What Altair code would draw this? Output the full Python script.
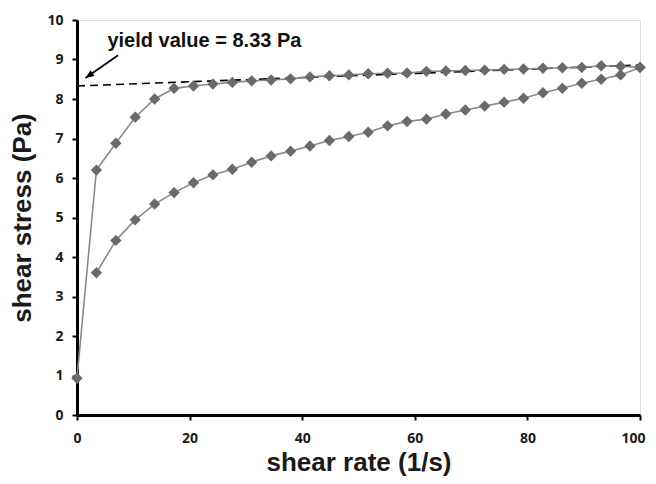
import altair as alt
import pandas as pd

# shear rate values (1/s)
shear_rate = [0, 3.45, 6.9, 10.34, 13.79, 17.24, 20.69, 24.14, 27.59, 31.03,
              34.48, 37.93, 41.38, 44.83, 48.28, 51.72, 55.17, 58.62, 62.07, 65.52,
              68.97, 72.41, 75.86, 79.31, 82.76, 86.21, 89.66, 93.1, 96.55, 100]
# upward curve (increasing shear rate)
stress_up = [0.93, 6.20, 6.88, 7.54, 8.00, 8.27, 8.33, 8.38, 8.42, 8.46,
             8.48, 8.51, 8.56, 8.59, 8.61, 8.64, 8.65, 8.66, 8.70, 8.71,
             8.72, 8.73, 8.75, 8.76, 8.78, 8.79, 8.80, 8.84, 8.83, 8.80]
# downward curve (from shear rate index 1 to 29)
stress_down = [3.60, 4.42, 4.94, 5.34, 5.63, 5.88, 6.08, 6.22, 6.40, 6.56,
               6.68, 6.81, 6.95, 7.05, 7.16, 7.32, 7.43, 7.49, 7.62, 7.72,
               7.82, 7.92, 8.02, 8.16, 8.27, 8.40, 8.50, 8.61, 8.80]

# yield line (dashed) end points
yield_x = [0, 100]
yield_y = [8.33, 8.86]
# annotation
ann_text = ["yield value = 8.33 Pa"]
ann_x = [5.4]
ann_y = [9.32]
arrow_x = [7.3, 1.5]
arrow_y = [9.11, 8.53]

x_ticks = [0, 20, 40, 60, 80, 100]
y_ticks = [0, 1, 2, 3, 4, 5, 6, 7, 8, 9, 10]

rows = []
for i, (xv, yv) in enumerate(zip(shear_rate, stress_up)):
    rows.append({"x": xv, "y": yv, "series": "up", "order": i})
for i, (xv, yv) in enumerate(zip(shear_rate[1:], stress_down)):
    rows.append({"x": xv, "y": yv, "series": "down", "order": i})
df = pd.DataFrame(rows)

xscale = alt.Scale(domain=[0, 100], nice=False, zero=False)
yscale = alt.Scale(domain=[0, 10], nice=False)

axis_common = dict(
    domainColor="black", domainWidth=3, tickColor="black", tickWidth=2,
    tickSize=5, grid=False, labelFont="Open Sans", labelFontWeight="bold",
    labelFontSize=14, labelColor="#1a1a1a", titleFont="Liberation Sans",
    titleFontWeight="bold", titleFontSize=26, titleColor="#1a1a1a",
    labelOverlap=False, labelFlush=False,
)

X = alt.X("x:Q", scale=xscale,
          axis=alt.Axis(values=x_ticks, labelPadding=11,
                        labelOffset={"condition": {"test": "datum.value == 100", "value": -7}, "value": 0},
                        title="shear rate (1/s)", titleBaseline="alphabetic",
                        titleY=55, **axis_common))
Y = alt.Y("y:Q", scale=yscale,
          axis=alt.Axis(values=y_ticks, tickCount=11, labelPadding=9,
                        title="shear stress (Pa)", titleX=-42, titleBaseline="bottom",
                        **axis_common))

base = alt.Chart(df)

lines = base.mark_line(color="#8a8a8a", strokeWidth=1.6).encode(
    x=X, y=Y, detail="series:N", order="order:Q",
)

points = base.mark_point(shape="diamond", filled=True, color="#6a6a6a", size=130, opacity=1).encode(
    x=X, y=Y
)

ydf = pd.DataFrame({"x": yield_x, "y": yield_y})
yline = alt.Chart(ydf).mark_line(color="black", strokeWidth=1.6, strokeDash=[8, 5]).encode(
    x=X, y=Y
)

adf = pd.DataFrame({"x": ann_x, "y": ann_y, "t": ann_text})
ann = alt.Chart(adf).mark_text(align="left", baseline="alphabetic", font="Liberation Sans",
                               fontWeight="bold", fontSize=20, color="#111").encode(
    x=X, y=Y, text="t:N"
)

ardf = pd.DataFrame({"x": arrow_x, "y": arrow_y, "o": [0, 1]})
arrow_line = alt.Chart(ardf).mark_line(color="black", strokeWidth=1.8).encode(
    x=X, y=Y, order="o:Q"
)
head_df = pd.DataFrame({"x": [arrow_x[1]], "y": [arrow_y[1]]})
arrow_head = alt.Chart(head_df).mark_point(
    shape="M0,0L-0.4,1L0.4,1Z", filled=True, color="black", size=300, angle=235, opacity=1
).encode(x=X, y=Y)

chart = alt.layer(yline, lines, points, arrow_line, arrow_head, ann).properties(
    width=563, height=395,
    autosize=alt.AutoSizeParams(type="none"),
    padding={"left": 69, "top": 12, "right": 8, "bottom": 61},
).configure_view(stroke=None).configure(background="white")

chart.save("out.html", embed_options={"renderer": "svg", "actions": False})
